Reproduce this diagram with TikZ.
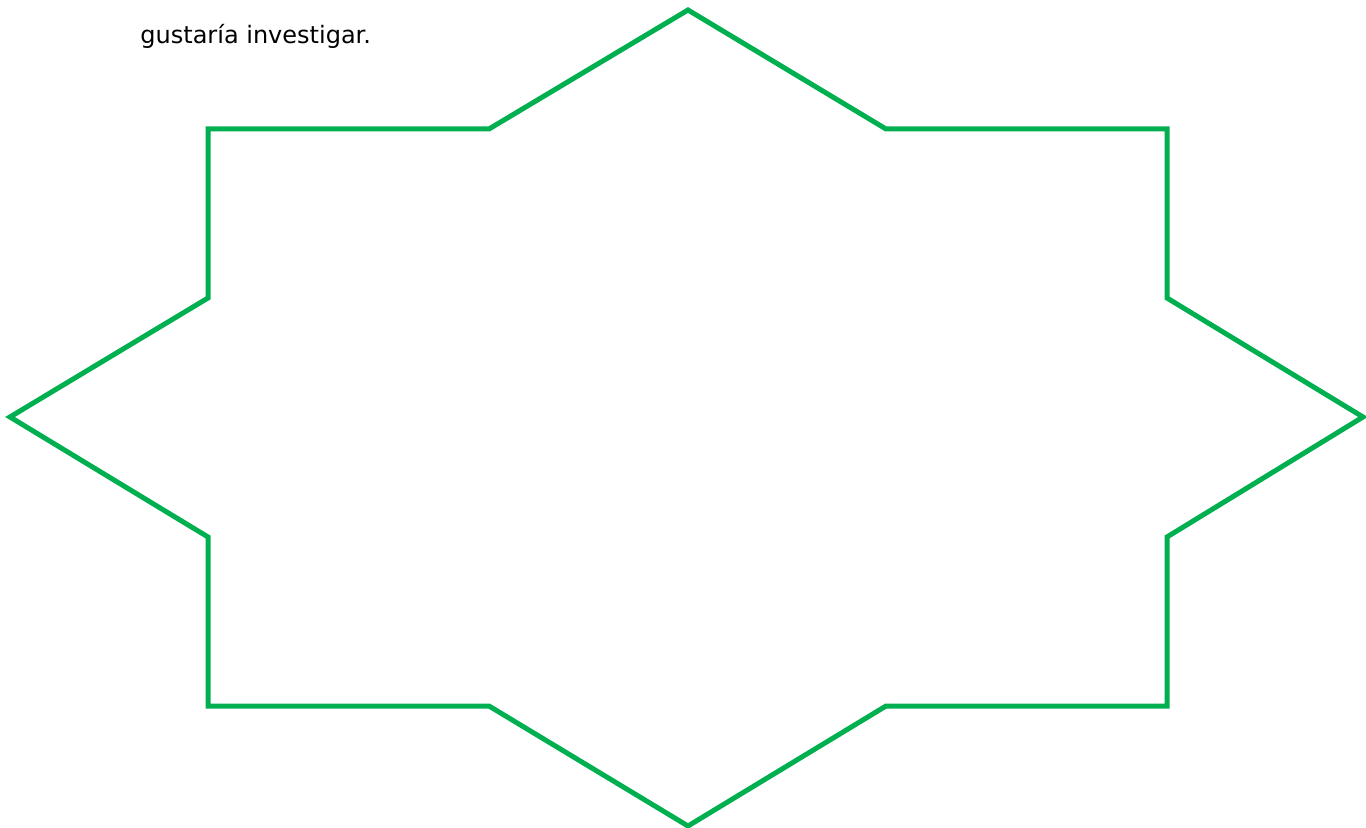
\documentclass[tikz,border=0pt]{standalone}
\usepackage{fontspec}
\setmainfont{DejaVu Sans}
\usepackage{xcolor}
\usetikzlibrary{positioning}
\definecolor{starline}{HTML}{00B050}
\definecolor{ink}{HTML}{000000}
\tikzset{
  star/.style={draw=starline, line width=2.5pt, line join=miter},
  caption/.style={font=\fontsize{12}{14}\selectfont, text=ink, inner sep=0pt, anchor=base west}
}

\begin{document}
\begin{tikzpicture}[x=0.5pt,y=-0.5pt]
    \useasboundingbox (0,0) rectangle (1366,828);
    % ===== heading text =====
    \node[caption] (heading) at (140,44) {gustaría investigar.};

    % ===== eight-point star outline =====
    \draw[star] (688,10) -- (886,129) -- (1167,129) -- (1167,298)
      -- (1363,417) -- (1167,537) -- (1167,706) -- (886,706)
      -- (688,826) -- (489,706) -- (208,706) -- (208,537)
      -- (10,417) -- (208,298) -- (208,129) -- (489,129) -- cycle;
  \end{tikzpicture}
\end{document}
